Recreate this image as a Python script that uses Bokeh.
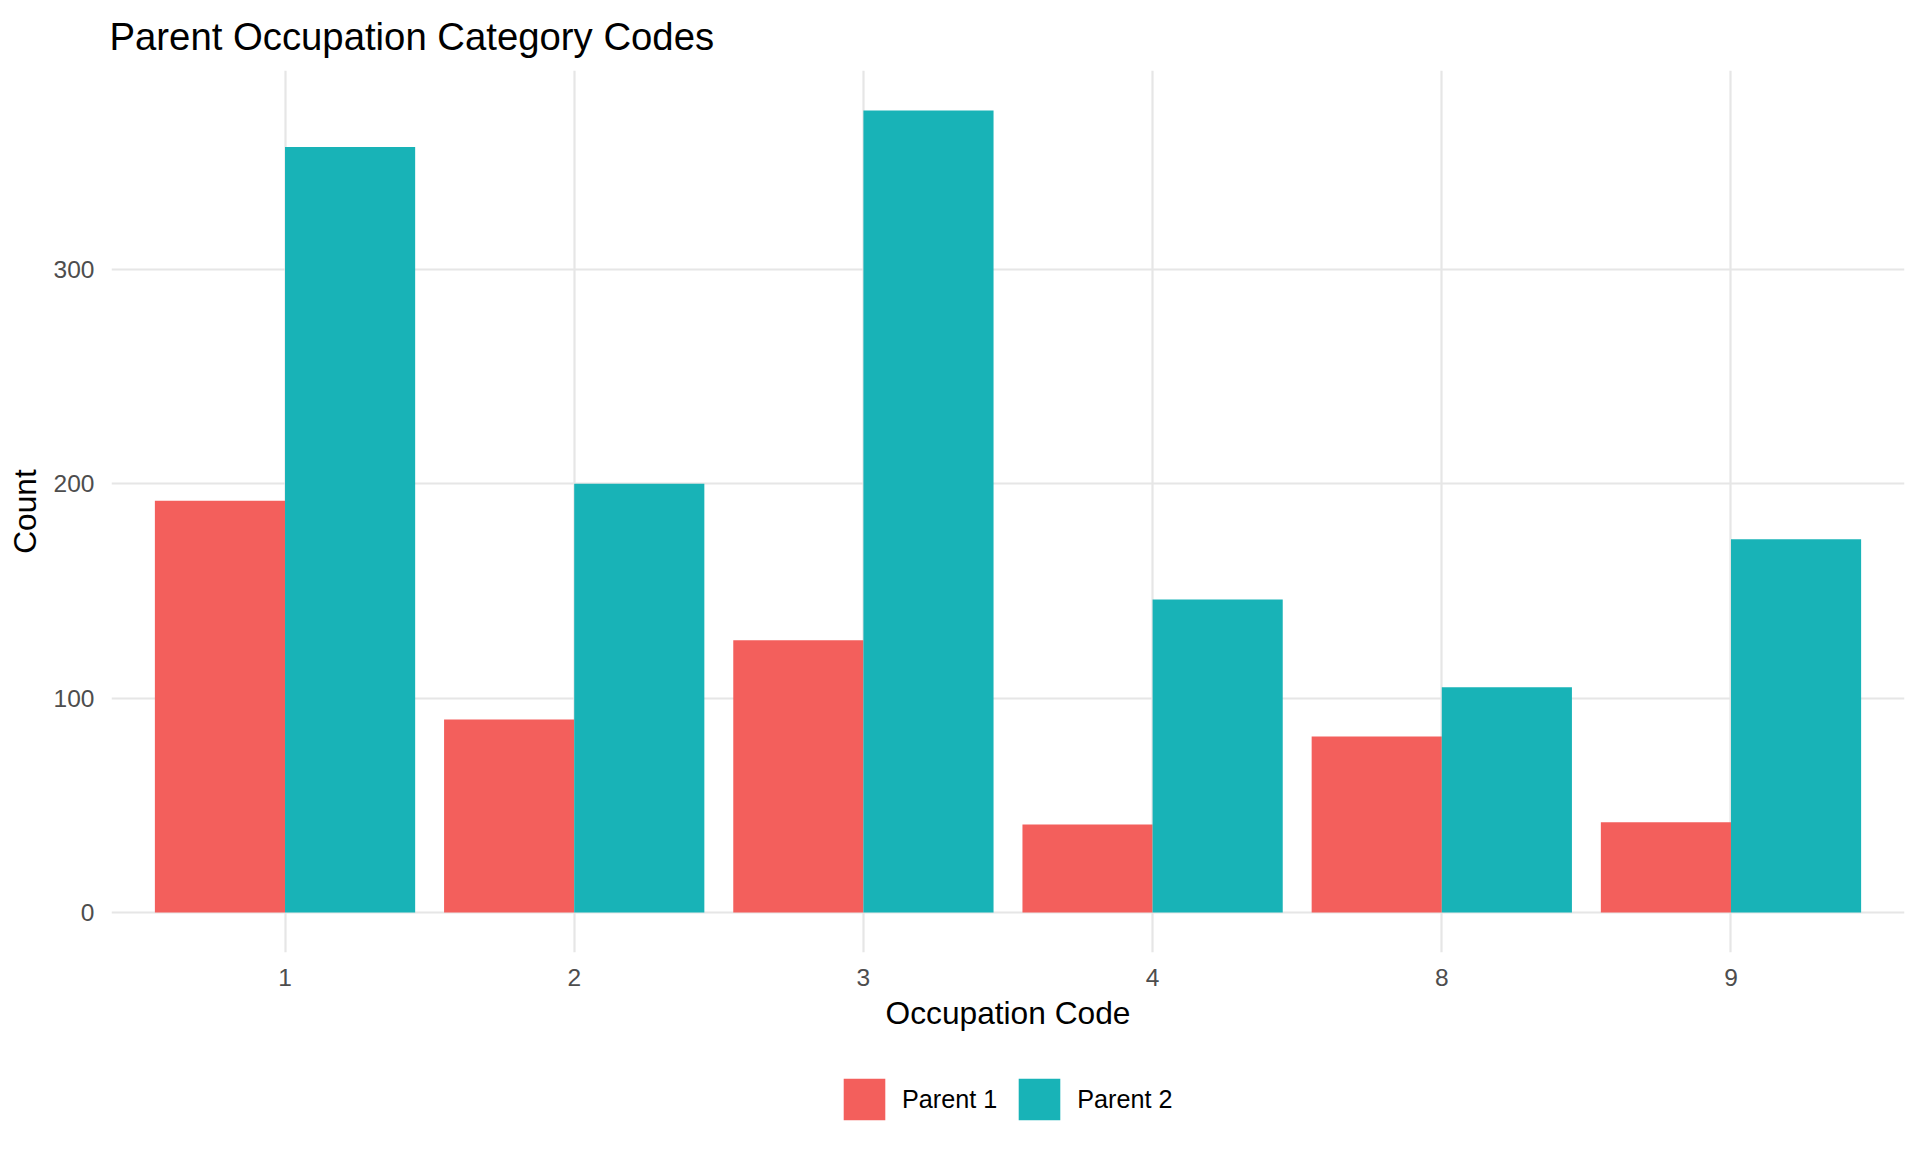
from bokeh.plotting import figure
from bokeh.layouts import column
from bokeh.models import ColumnDataSource, FactorRange, Range1d, FixedTicker, Legend, LegendItem
from bokeh.transform import dodge
from bokeh.embed import file_html
from bokeh.resources import INLINE

codes = ["1", "2", "3", "4", "8", "9"]
parent1 = [192, 90, 127, 41, 82, 42]
parent2 = [357, 200, 374, 146, 105, 174]
series_names = ["Parent 1", "Parent 2"]
y_ticks = [0, 100, 200, 300]

RED = "#F35F5C"
TEAL = "#18B3B7"
FONT = "Liberation Sans"

src = ColumnDataSource(dict(code=codes, p1=parent1, p2=parent2))

xr = FactorRange(factors=codes, range_padding=0.1, range_padding_units="absolute")
ymax = max(parent1 + parent2)
yr = Range1d(-0.05 * ymax, ymax * 1.05)

p = figure(x_range=xr, y_range=yr, frame_width=1793, frame_height=882,
           output_backend="svg", toolbar_location=None,
           min_border_left=111, min_border_right=16, min_border_top=68, min_border_bottom=100,
           title="Parent Occupation Category Codes")
p.outline_line_color = None
p.background_fill_color = "white"

r1 = p.vbar(x=dodge("code", -0.225, range=p.x_range), top="p1", width=0.45, bottom=0,
            source=src, fill_color=RED, line_color=None)
r2 = p.vbar(x=dodge("code", 0.225, range=p.x_range), top="p2", width=0.45, bottom=0,
            source=src, fill_color=TEAL, line_color=None)

p.title.text_font = FONT
p.title.text_font_size = "38.3px"
p.title.text_font_style = "normal"
p.title.text_color = "black"
p.title.align = "left"
p.title.offset = -2
p.title.standoff = 25

for ax in (p.xaxis[0], p.yaxis[0]):
    ax.axis_line_color = None
    ax.major_tick_line_color = None
    ax.minor_tick_line_color = None
    ax.major_label_text_font = FONT
    ax.major_label_text_font_size = "24.5px"
    ax.major_label_text_color = "#4D4D4D"
    ax.axis_label_text_font = FONT
    ax.axis_label_text_font_size = "31.7px"
    ax.axis_label_text_font_style = "normal"
    ax.axis_label_text_color = "black"

p.yaxis[0].ticker = FixedTicker(ticks=y_ticks)
p.yaxis[0].axis_label = "Count"
p.yaxis[0].major_label_standoff = 11
p.yaxis[0].axis_label_standoff = 8
p.xaxis[0].axis_label = "Occupation Code"
p.xaxis[0].major_label_standoff = 10
p.xaxis[0].axis_label_standoff = 6

p.ygrid.ticker = FixedTicker(ticks=y_ticks)
p.xgrid.grid_line_color = "#E6E6E6"
p.ygrid.grid_line_color = "#E6E6E6"
p.xgrid.grid_line_width = 2.2
p.ygrid.grid_line_width = 2.2

# legend lives in its own strip below the chart (frames are aligned with the chart's)
lf = figure(width=1920, height=102, output_backend="svg", toolbar_location=None,
            min_border_left=0, min_border_right=0, min_border_top=0, min_border_bottom=0,
            x_range=Range1d(0, 1), y_range=Range1d(0, 1))
lf.axis.visible = False
lf.grid.visible = False
lf.outline_line_color = None
offscreen = ColumnDataSource(dict(x=[-5.0], top=[-5.0]))
l1 = lf.vbar(x="x", top="top", bottom=-6.0, width=0.1, source=offscreen, fill_color=RED, line_color=None)
l2 = lf.vbar(x="x", top="top", bottom=-6.0, width=0.1, source=offscreen, fill_color=TEAL, line_color=None)

legend = Legend(items=[LegendItem(label=series_names[0], renderers=[l1]),
                       LegendItem(label=series_names[1], renderers=[l2])],
                orientation="horizontal", location=(727, 29))
legend.border_line_color = None
legend.background_fill_alpha = 0
legend.glyph_width = 52
legend.glyph_height = 52
legend.label_text_font = FONT
legend.label_text_font_size = "25.2px"
legend.label_text_color = "black"
legend.label_standoff = 12
legend.spacing = 16
legend.padding = 0
legend.margin = 0
lf.add_layout(legend, "center")

layout = column(p, lf, spacing=0)
open("out.html", "w").write(file_html(layout, INLINE))
